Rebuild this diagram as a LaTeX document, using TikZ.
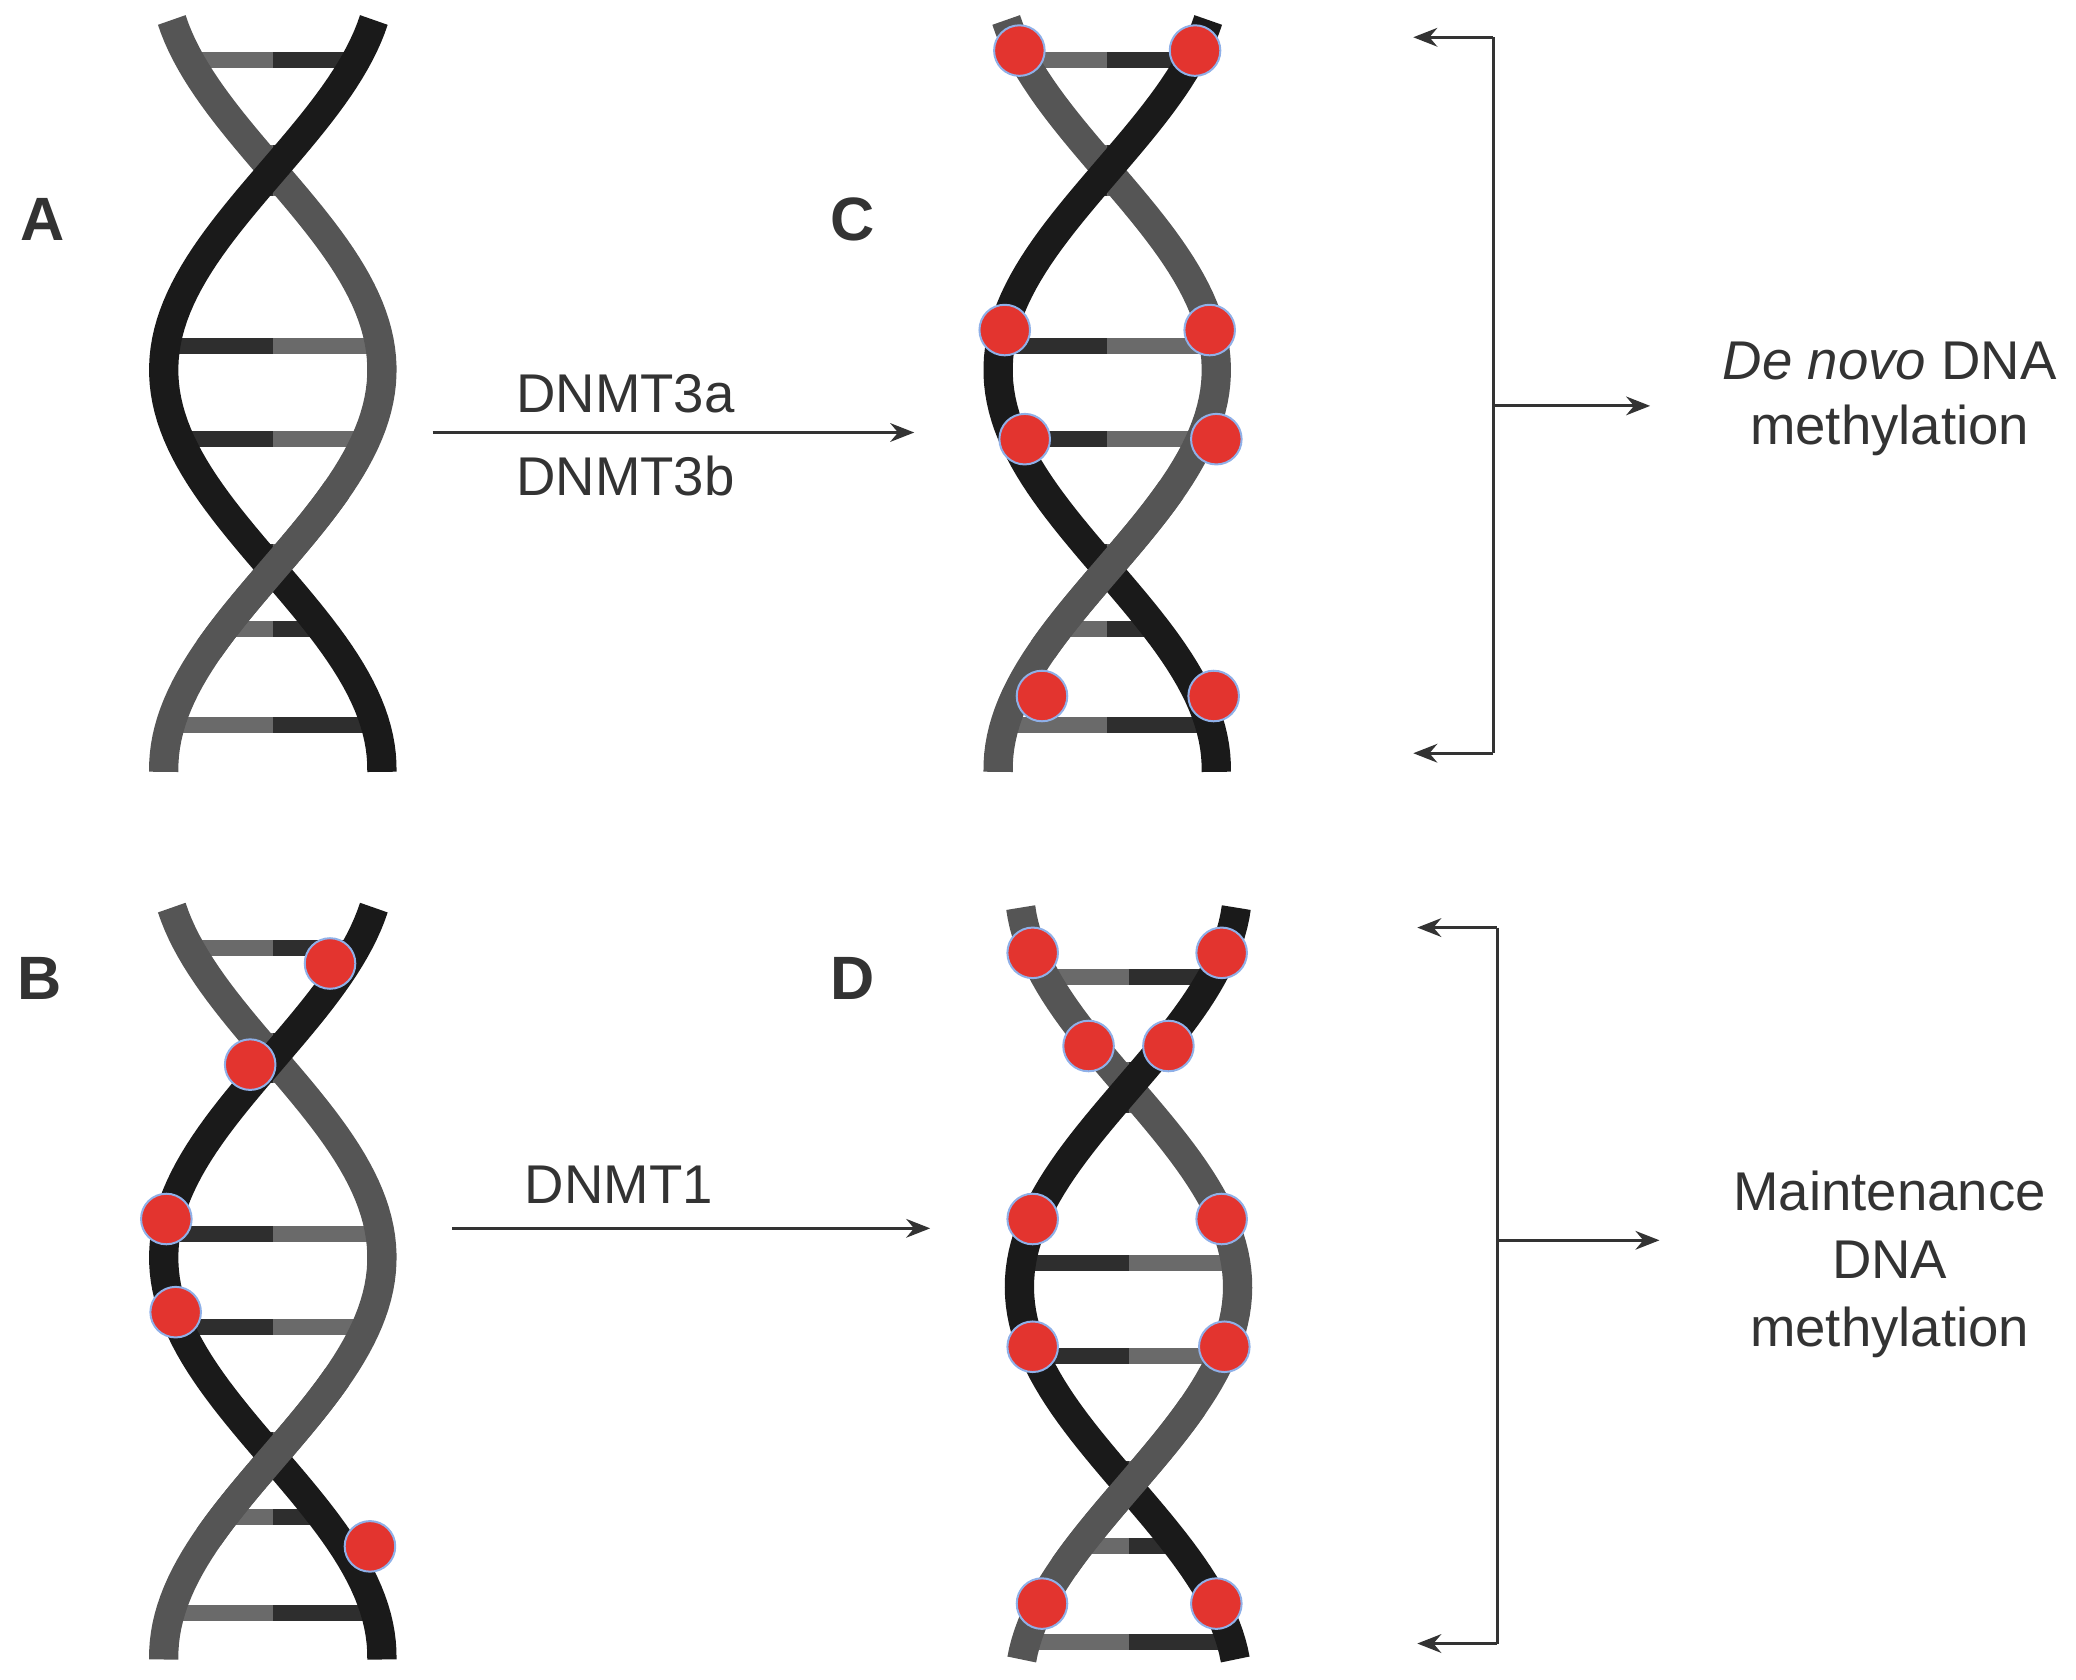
\documentclass[tikz,border=0pt]{standalone}
\usepackage{fontspec}
\setmainfont{Liberation Sans}
\usetikzlibrary{arrows.meta}
\definecolor{kstr}{HTML}{1A1A1A}
\definecolor{gstr}{HTML}{555555}
\definecolor{bardark}{HTML}{2E2E2E}
\definecolor{barlight}{HTML}{6A6A6A}
\definecolor{meth}{HTML}{E3342F}
\definecolor{methb}{HTML}{8FB0E8}
\definecolor{txt}{HTML}{333333}
\tikzset{
 strand/.style={line width=22pt, line cap=butt},
 meth/.style={circle, fill=meth, draw=methb, line width=1.5pt, minimum size=38pt, inner sep=0pt},
 conn/.style={line width=2.4pt, draw=txt, -{Stealth[length=18pt,width=14pt]}},
 brk/.style={line width=2.4pt, draw=txt},
 lab/.style={font=\fontsize{41}{41}\selectfont, text=txt},
 big/.style={font=\fontsize{46}{46}\selectfont\bfseries, text=txt},
}
% #1 cx, #2 top, #3 phase (first crossing, relative)
\newcommand\myhelix[3]{%
\begin{scope}[shift={(#1,#2)}]
\foreach \oo in {-83,-13,13,132,202,287,345,417}{
 \pgfmathsetmacro\yy{#3+\oo}
 \pgfmathsetmacro\xg{82*sin(0.6*\oo)}
 \pgfmathsetmacro\xk{-\xg}
 \draw[line width=12pt, barlight] (\xg,\yy) -- (0,\yy);
 \draw[line width=12pt, bardark] (0,\yy) -- (\xk,\yy);
}
\draw[strand, gstr] plot[variable=\t,domain=15:580,samples=90] ({82*sin(0.6*(\t-#3))},\t);
\draw[strand, kstr] plot[variable=\t,domain=15:580,samples=90] ({-82*sin(0.6*(\t-#3))},\t);
\draw[strand, gstr] plot[variable=\t,domain=#3+240:#3+360,samples=30] ({82*sin(0.6*(\t-#3))},\t);
\end{scope}}
\begin{document}
\begin{tikzpicture}[x=1pt,y=-1pt]
\useasboundingbox (0,0) rectangle (1560,1262);
\myhelix{205}{0}{128}
\myhelix{205}{667}{128}
\myhelix{832}{0}{128}
\myhelix{848}{667}{150}
\node[big] (la) at (32,165) {A};
\node[big] (lc) at (641,165) {C};
\node[big] (lb) at (30,735) {B};
\node[big] (ld) at (641,735) {D};
\foreach \p/\q [count=\i] in {766/38,898/38,755/248,909/248,770/330,914/330,783/523,912/523}
 \node[meth] (c\i) at (\p,\q) {};
\foreach \p/\q [count=\i] in {248/724,188/800,125/916,132/986,278/1162}
 \node[meth] (b\i) at (\p,\q) {};
\foreach \p/\q [count=\i] in {776/716,918/716,818/786,878/786,776/916,918/916,776/1012,920/1012,783/1205,914/1205}
 \node[meth] (d\i) at (\p,\q) {};
\coordinate (a1) at (325,325); \coordinate (a2) at (687,325);
\draw[conn] (a1) -- (a2);
\node[lab] (t3a) at (470,296) {DNMT3a};
\node[lab] (t3b) at (470,358) {DNMT3b};
\coordinate (b1) at (340,923); \coordinate (b2) at (699,923);
\draw[conn] (b1) -- (b2);
\node[lab] (t1) at (465,890) {DNMT1};
\coordinate (u1) at (1122,28); \coordinate (u2) at (1122,566);
\coordinate (u1e) at (1062,28); \coordinate (u2e) at (1062,566);
\draw[brk] (u1) -- (u2);
\draw[conn] (u1) -- (u1e);
\draw[conn] (u2) -- (u2e);
\coordinate (um) at (1122,305); \coordinate (ume) at (1240,305);
\draw[conn] (um) -- (ume);
\node[lab, align=center] (tdn) at (1420,300) {\textit{De novo} DNA\\[8pt]methylation};
\coordinate (v1) at (1125,697); \coordinate (v2) at (1125,1235);
\coordinate (v1e) at (1065,697); \coordinate (v2e) at (1065,1235);
\draw[brk] (v1) -- (v2);
\draw[conn] (v1) -- (v1e);
\draw[conn] (v2) -- (v2e);
\coordinate (vm) at (1125,932); \coordinate (vme) at (1247,932);
\draw[conn] (vm) -- (vme);
\node[lab, align=center] (tm) at (1420,950) {Maintenance\\[10pt]DNA\\[10pt]methylation};
\end{tikzpicture}
\end{document}
